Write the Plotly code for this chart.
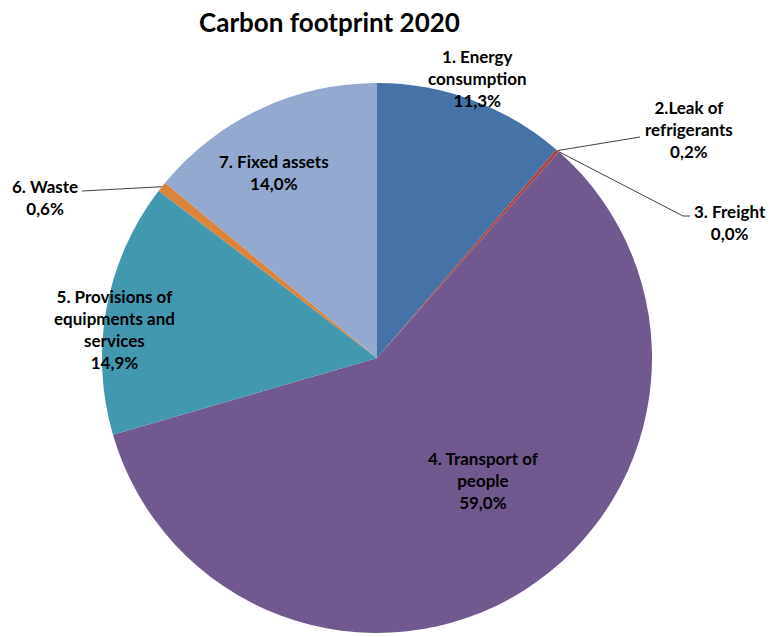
import math
import plotly.graph_objects as go

# ---- data ----
categories = ["1. Energy consumption", "2.Leak of refrigerants", "3. Freight",
              "4. Transport of people", "5. Provisions of equipments and services",
              "6. Waste", "7. Fixed assets"]
label_lines = [["1. Energy", "consumption"], ["2.Leak of", "refrigerants"], ["3. Freight"],
               ["4. Transport of", "people"], ["5. Provisions of", "equipments and", "services"],
               ["6. Waste"], ["7. Fixed assets"]]
values = [11.3, 0.2, 0.0, 59.0, 14.9, 0.6, 14.0]
colors = ["#4572A7", "#AA4643", "#89A54E", "#71588F", "#4198AF", "#DB843D", "#93A9CF"]
title = "Carbon footprint 2020"

# ---- layout constants (pixels) ----
W, H = 770, 637
CX, CY, R = 377, 358, 275
FONT = "Lato"

def px(x):
    return x / W

def py(y):
    return 1 - y / H

fig = go.Figure(go.Pie(
    labels=categories, values=values, sort=False, direction="clockwise", rotation=0,
    marker=dict(colors=colors, line=dict(width=0)),
    textinfo="none", hoverinfo="label+percent", showlegend=False,
    domain=dict(x=[px(CX - R), px(CX + R)], y=[py(CY + R), py(CY - R)]),
))

# label anchor positions (center of text block), pixels
label_pos = [(477, 78), (689, 129), (730, 222), (483, 481), (114, 330), (45, 197), (274, 172)]
total = sum(values)
annotations = []
for lines, v, (lx, ly) in zip(label_lines, values, label_pos):
    pct = f"{v / total * 100:.1f}".replace(".", ",") + "%"
    annotations.append(dict(
        text="<br>".join(lines + [pct]), x=px(lx), y=py(ly), xref="paper", yref="paper",
        showarrow=False, xanchor="center", yanchor="middle", align="center",
        font=dict(family=FONT, size=17, color="#000000", weight="bold"),
    ))

# edge points from cumulative data
def mid_point(i, frac_r=1.0):
    start = sum(values[:i]) / total
    mid = start + values[i] / total / 2
    a = 2 * math.pi * mid
    return CX + R * frac_r * math.sin(a), CY - R * frac_r * math.cos(a)

shapes = []
def seg(pts):
    path = "M " + " L ".join(f"{px(x)},{py(y)}" for x, y in pts)
    shapes.append(dict(type="path", path=path, xref="paper", yref="paper",
                       line=dict(color="#404040", width=1)))

p1 = mid_point(1)
seg([p1, (640, 137)])
p2 = mid_point(2)
seg([p2, (683, 216), (690, 216)])
p5 = mid_point(5)
seg([p5, (82, 191)])

fig.update_layout(
    width=W, height=H, margin=dict(l=0, r=0, t=0, b=0),
    paper_bgcolor="white", plot_bgcolor="white",
    annotations=annotations + [dict(
        text=title, x=px(329), y=py(22), xref="paper", yref="paper", showarrow=False,
        xanchor="center", yanchor="middle",
        font=dict(family=FONT, size=26, color="#000000", weight="bold"))],
    shapes=shapes,
)
fig.write_html("out.html")
